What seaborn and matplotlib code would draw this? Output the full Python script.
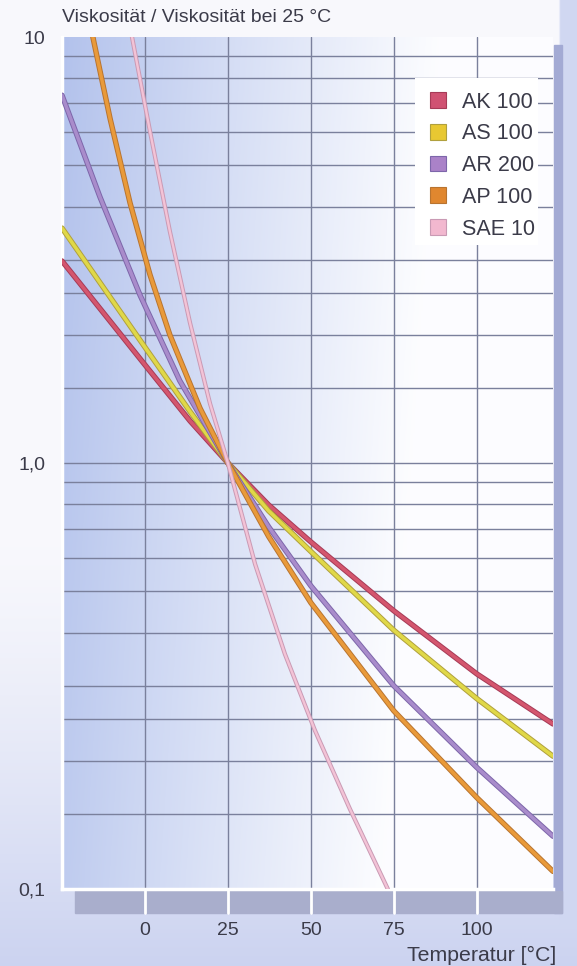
import numpy as np
import pandas as pd
import matplotlib
matplotlib.use("Agg")
import matplotlib.pyplot as plt
import matplotlib.patheffects as pe
import matplotlib.transforms as mtransforms
from matplotlib.patches import Patch, Rectangle
import seaborn as sns

# Werte (Viskosität relativ zu 25 °C)
t_ak100 = [-25, 0, 13.6, 25, 37.3, 50, 75, 100, 123]
v_ak100 = [2.98, 1.70, 1.255, 1.0, 0.797, 0.653, 0.45, 0.32, 0.244]

t_as100 = [-25, 0, 13.6, 25, 37.3, 50, 75, 100, 123]
v_as100 = [3.56, 1.87, 1.32, 1.0, 0.772, 0.62, 0.405, 0.28, 0.205]

t_ar200 = [-25, -13.6, -1.5, 10.5, 25, 37.3, 50, 75, 100, 123]
v_ar200 = [7.3, 4.22, 2.48, 1.56, 1.0, 0.708, 0.515, 0.30, 0.193, 0.133]

t_ap100 = [-15.7, -10.5, -4.5, 1.5, 7.5, 16.6, 25, 37.3, 50, 75, 100, 123]
v_ap100 = [10, 6.43, 4.08, 2.77, 2.0, 1.345, 1.0, 0.672, 0.47, 0.262, 0.164, 0.110]

t_sae10 = [-3.9, 1.5, 7.5, 13.6, 19.6, 25, 33.2, 42.2, 51.2, 61.8, 73.2]
v_sae10 = [10, 6.02, 3.50, 2.13, 1.38, 1.0, 0.579, 0.356, 0.236, 0.154, 0.1]

namen = ["AK 100", "AS 100", "AR 200", "AP 100", "SAE 10"]
x_ticks = [0, 25, 50, 75, 100]
y_ticks = [0.1, 1, 10]
y_ticklabels = ["0,1", "1,0", "10"]
y_grid = [0.15, 0.2, 0.25, 0.3, 0.4, 0.5, 0.6, 0.7, 0.8, 0.9, 1.0,
          1.5, 2, 2.5, 3, 4, 5, 6, 7, 8, 9]

df = pd.concat([
    pd.DataFrame({"T": t, "v": v, "Öl": n})
    for t, v, n in zip([t_ak100, t_as100, t_ar200, t_ap100, t_sae10],
                       [v_ak100, v_as100, v_ar200, v_ap100, v_sae10], namen)
])

# Farben: Kern, Rand
kern = {"AK 100": "#d4566e", "AS 100": "#e0d848", "AR 200": "#a98ccb",
        "AP 100": "#e99a3a", "SAE 10": "#f3c3d6"}
rand = {"AK 100": "#a63b57", "AS 100": "#b0a03e", "AR 200": "#7d66aa",
        "AP 100": "#b87430", "SAE 10": "#c99ab4"}
patch_col = {"AK 100": "#d05272", "AS 100": "#e8c832", "AR 200": "#aa82c8",
             "AP 100": "#e0872f", "SAE 10": "#f2b8cf"}

sns.set_style("white")
plt.rcParams["font.family"] = ["Liberation Sans", "DejaVu Sans"]
text_col = "#3b3b49"

W, H = 577, 966
fig = plt.figure(figsize=(W / 100, H / 100), dpi=100)

# Seitenhintergrund
bg = fig.add_axes([0, 0, 1, 1], zorder=-10)
yy, xx = np.mgrid[0:1:300j, 0:1:200j]
s = np.clip((yy - 0.55) / 0.45, 0, 1) ** 1.3 * 0.95
s = np.where(xx > 0.974, np.maximum(s, 0.85), s)
weiss = np.array([0.975, 0.975, 0.99])
lav = np.array([0.79, 0.82, 0.94])
img = weiss * (1 - s[..., None]) + lav * s[..., None]
bg.imshow(img, extent=[0, 1, 0, 1], aspect="auto", origin="upper")
bg.axis("off")

rect = [62 / W, 1 - 889 / H, (553 - 62) / W, (889 - 37) / H]

# Verlauf im Diagrammfeld
gax = fig.add_axes(rect, zorder=-5)
gy, gx = np.mgrid[0:1:300j, 0:1:300j]
tt = np.clip(1.3 * gx + 0.15 * gy, 0, 1) ** 0.95
blau = np.array([0.70, 0.76, 0.925])
hell = np.array([0.99, 0.992, 1.0])
gax.imshow(blau * (1 - tt[..., None]) + hell * tt[..., None],
           extent=[0, 1, 0, 1], aspect="auto", origin="upper")
gax.axis("off")

# Schatten unten und rechts
fig.add_artist(Rectangle((554 / W, 1 - 913 / H), 8 / W, (913 - 45) / H,
                         transform=fig.transFigure, color="#a3aad4", zorder=-3))
fig.add_artist(Rectangle((75 / W, 1 - 913 / H), (562 - 75) / W, (913 - 891) / H,
                         transform=fig.transFigure, color="#a9aecc", zorder=-3))

ax = fig.add_axes(rect)
ax.set_facecolor("none")
ax.set_yscale("log")

for n in namen:
    d = df[df["Öl"] == n]
    lw = 1.7 if n == "SAE 10" else 2.5
    sns.lineplot(data=d, x="T", y="v", color=kern[n], lw=lw, ax=ax,
                 estimator=None, sort=False, zorder=5,
                 path_effects=[pe.Stroke(linewidth=lw + 1.4, foreground=rand[n]),
                               pe.Normal()])

for g in y_grid:
    ax.axhline(g, color="#7a809c", lw=1.0, zorder=1)
for x in x_ticks:
    ax.axvline(x, color="#7a809c", lw=1.0, zorder=1)

ax.set_xlim(-25, 123)
ax.set_ylim(0.1, 10)
ax.set_xticks(x_ticks)
ax.set_xticklabels([str(x) for x in x_ticks])
ax.set_yticks(y_ticks)
ax.set_yticklabels(y_ticklabels)
ax.yaxis.set_minor_locator(matplotlib.ticker.NullLocator())
ax.set_xlabel("")
ax.set_ylabel("")
ax.tick_params(axis="x", length=0, pad=24, labelsize=14, labelcolor=text_col)
ax.tick_params(axis="y", length=6.5, width=2, color="white", pad=5.5,
               labelsize=14, labelcolor=text_col)

for sp in ["top", "right"]:
    ax.spines[sp].set_visible(False)
for sp in ["left", "bottom"]:
    ax.spines[sp].set_color("white")
    ax.spines[sp].set_linewidth(2.5)

# weiße Linien im Schattenband
trans = mtransforms.blended_transform_factory(ax.transData, fig.transFigure)
for x in x_ticks:
    ax.plot([x, x], [1 - 913 / H, 1 - 889 / H], transform=trans,
            color="white", lw=2, clip_on=False)

# weißes Feld hinter der Legende
ax.add_patch(Rectangle((415 / W, 1 - 245 / H), 123 / W, 167 / H,
                       transform=fig.transFigure, facecolor="white",
                       edgecolor="none", zorder=3))

handles = [Patch(facecolor=patch_col[n], edgecolor=rand[n], lw=0.8, label=n)
           for n in namen]
leg = ax.legend(handles=handles, loc="upper right", bbox_to_anchor=(0.964, 0.936),
                fontsize=15.5, frameon=False, handlelength=0.75,
                handleheight=0.75, handletextpad=0.75, labelspacing=0.5,
                borderpad=0, borderaxespad=0)
leg.set_zorder(10)
for txt in leg.get_texts():
    txt.set_color(text_col)

fig.text(62 / W, 1 - 18 / H, "Viskosität / Viskosität bei 25 °C",
         ha="left", va="center", fontsize=14, color=text_col)
fig.text(556 / W, 1 - 955 / H, "Temperatur [°C]",
         ha="right", va="center", fontsize=15.3, color=text_col)

fig.savefig("out.png", dpi=100)
